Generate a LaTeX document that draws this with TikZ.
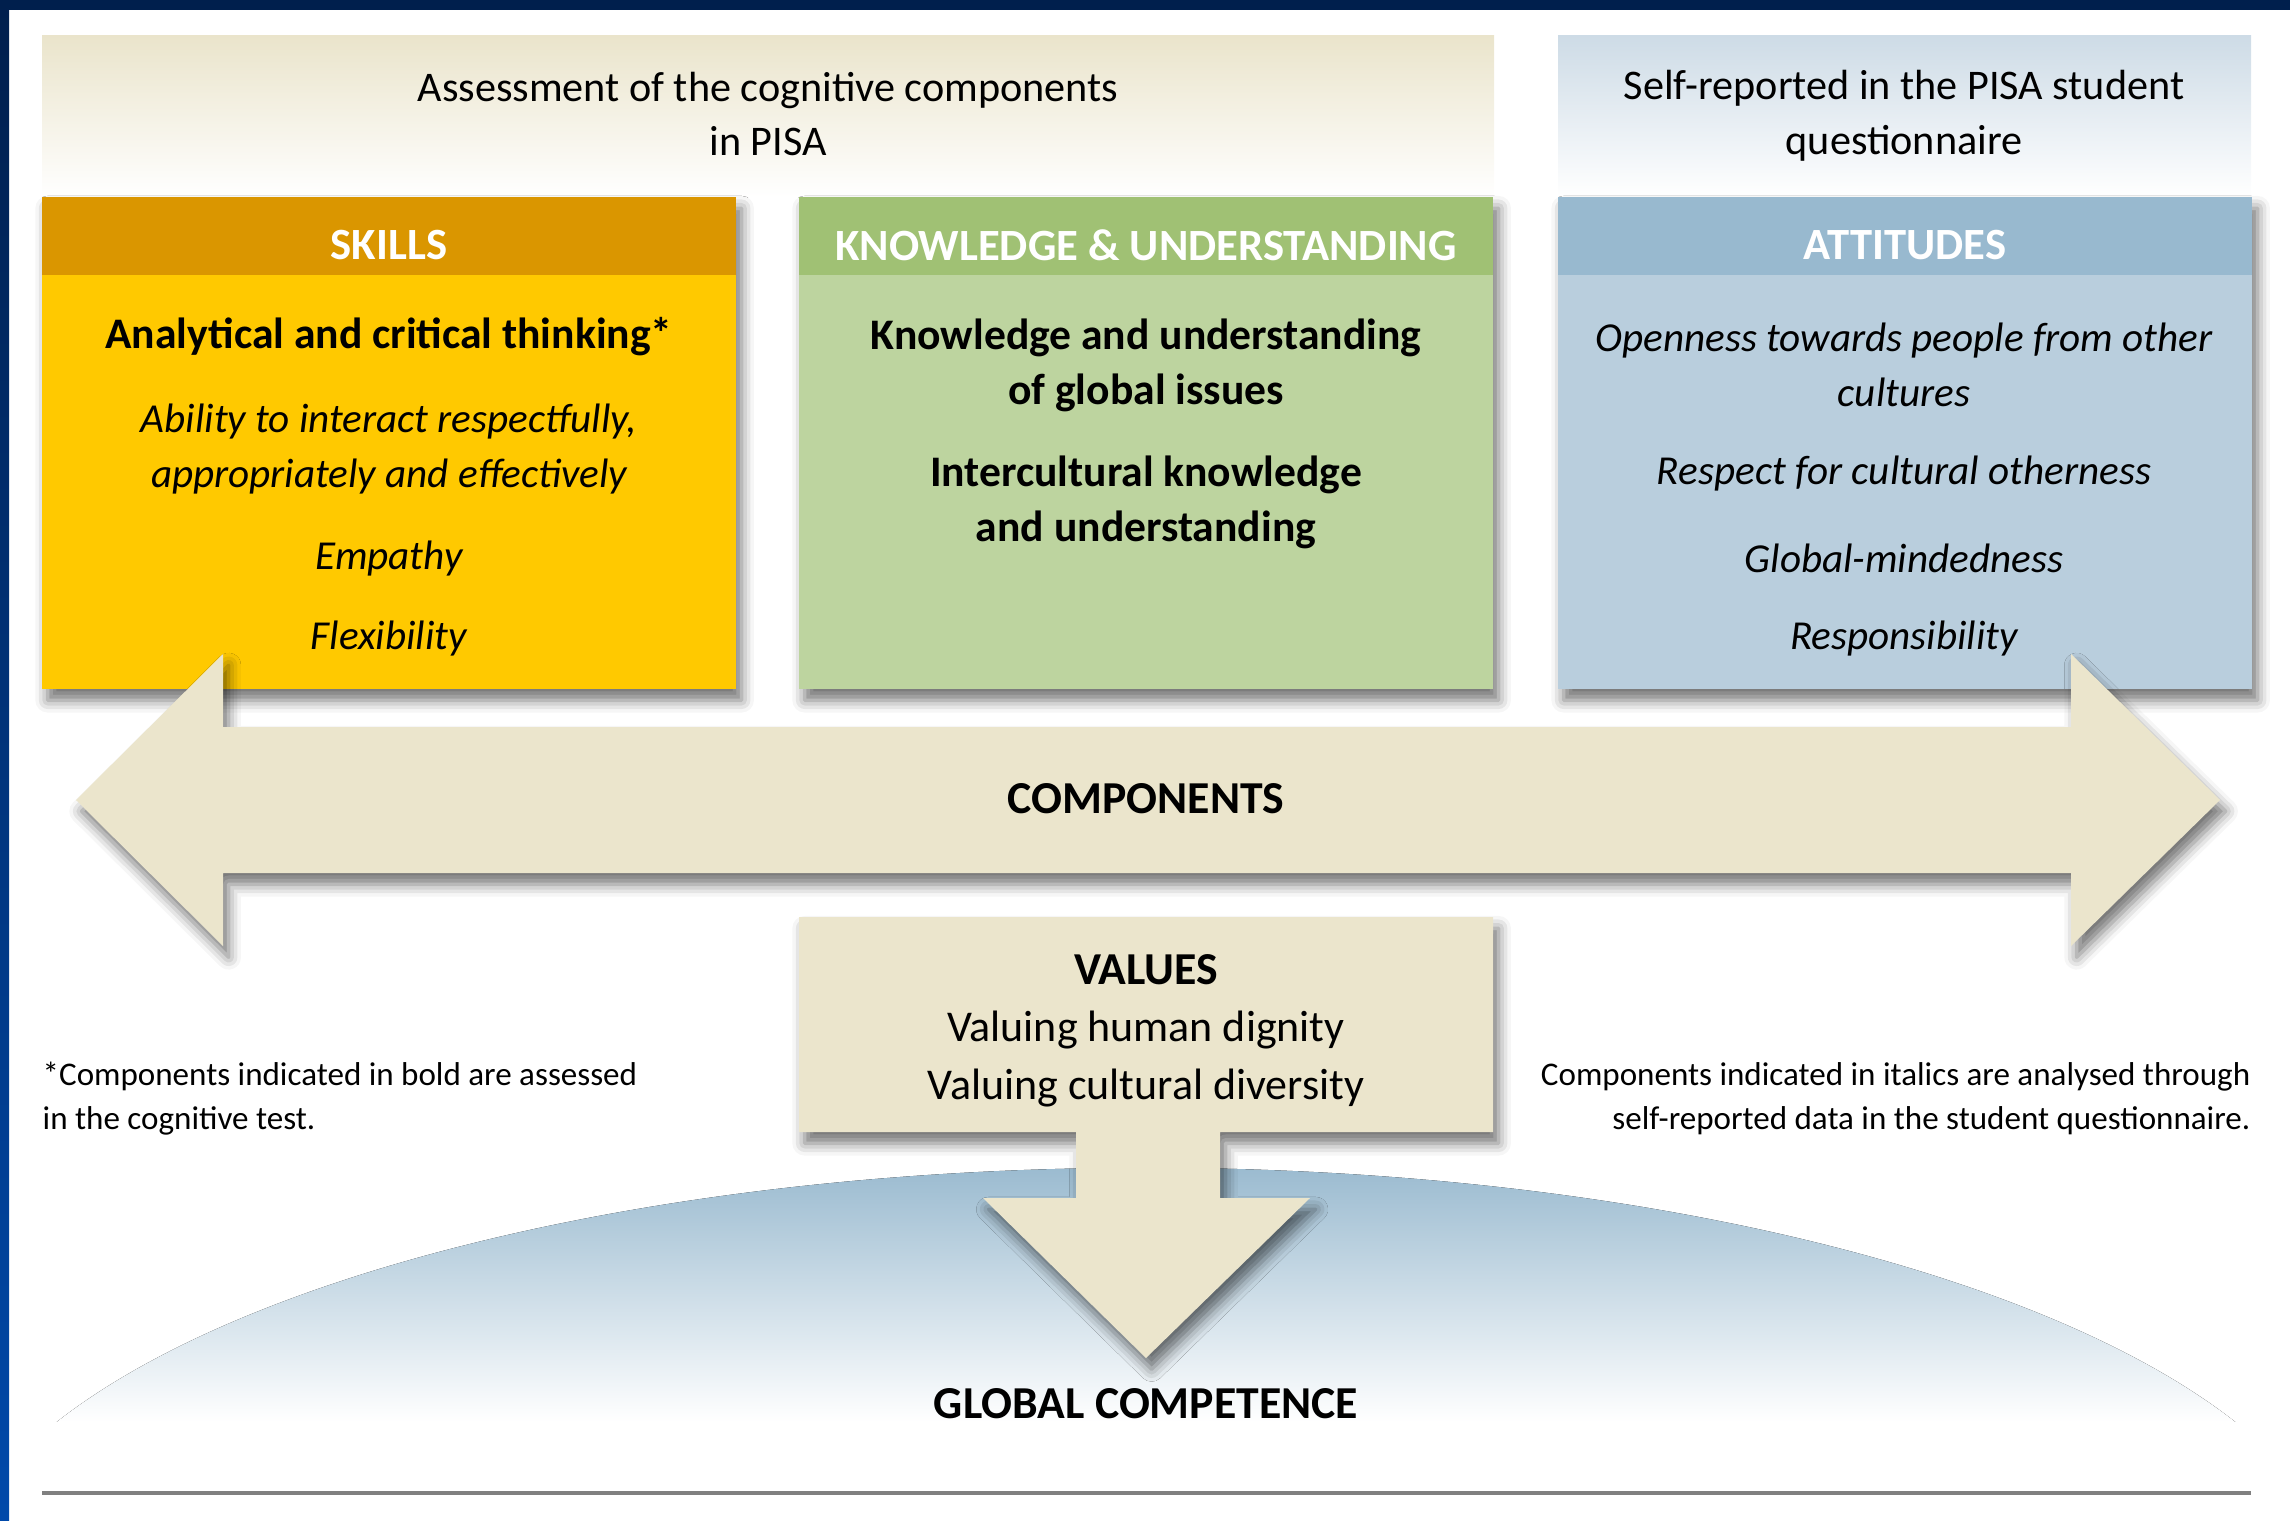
\documentclass[tikz,border=0pt]{standalone}
\usepackage{fontspec}
\setmainfont{Carlito}
\usetikzlibrary{shadows.blur}

\definecolor{navy}{HTML}{001F4D}
\definecolor{frameblue}{HTML}{0049AA}
\definecolor{cream}{HTML}{EBE5CC}
\definecolor{creamtop}{HTML}{EAE4CB}
\definecolor{greytop}{HTML}{CDDBE6}
\definecolor{skillhead}{HTML}{DA9600}
\definecolor{skillbody}{HTML}{FFC900}
\definecolor{knowhead}{HTML}{A0C174}
\definecolor{knowbody}{HTML}{BDD49F}
\definecolor{atthead}{HTML}{98B9CF}
\definecolor{attbody}{HTML}{B9CEDD}
\definecolor{domeblue}{HTML}{9BBBD0}
\definecolor{rulegrey}{HTML}{808080}

\begin{document}
\begin{tikzpicture}
	[
		x = 0.01cm, y = -0.01cm,
		soft/.style = {blur shadow={shadow xshift=1.6pt, shadow yshift=-3.2pt, shadow blur radius=3.5pt, shadow opacity=55}},
		band/.style = {inner sep=0pt, text=white, font=\fontsize{12.7}{15}\selectfont\bfseries},
		item/.style = {inner sep=0pt, align=center, font=\fontsize{12}{15.6}\selectfont},
		bitem/.style = {item, font=\fontsize{12.4}{15.6}\selectfont\bfseries},
		iitem/.style = {item, font=\fontsize{11.7}{15.6}\selectfont\itshape},
		title/.style = {inner sep=0pt, font=\fontsize{13}{15.6}\selectfont\bfseries},
		note/.style = {inner sep=0pt, font=\fontsize{9.4}{12.5}\selectfont}
	]
	
	\useasboundingbox (0,0) rectangle (2290,1521);
	
	\fill [navy] (0,0) rectangle (2290,10);
	\fill [top color=navy, bottom color=frameblue] (0,0) rectangle (9,1521);
	
	\fill [top color=creamtop, bottom color=white] (42,35) rectangle (1494,197);
	\fill [top color=greytop, bottom color=white] (1558,35) rectangle (2251,197);
	
	\node [item] (hdcog) at (768,114) {Assessment of the cognitive components\\in PISA};
	\node [item] (hdself) at (1904,116) {Self-reported in the PISA student\\questionnaire};
	
	\newcommand{\pisabox}[5]{
		\fill [#4, soft] (#2,197) rectangle ++(694,492);
		\fill [#3] (#2,197) rectangle ++(694,78);
		\node [band] (#1) at ({#2 + 347},245) {#5};
	}
	
	\pisabox{skills}{42}{skillhead}{skillbody}{SKILLS}
	\pisabox{know}{799}{knowhead}{knowbody}{KNOWLEDGE \& UNDERSTANDING}
	\pisabox{att}{1558}{atthead}{attbody}{ATTITUDES}
	
	\node [bitem] (skA) at (389,337) {Analytical and critical thinking*};
	\node [iitem] (skB) at (389,449) {Ability to interact respectfully,\\appropriately and effectively};
	\node [iitem] (skC) at (389,559) {Empathy};
	\node [iitem] (skD) at (389,639) {Flexibility};
	
	\node [bitem] (knA) at (1146,365) {Knowledge and understanding\\of global issues};
	\node [bitem] (knB) at (1146,502) {Intercultural knowledge\\and understanding};
	
	\node [iitem] (atA) at (1904,365) {Openness towards people from other\\cultures};
	\node [iitem] (atB) at (1904,474) {Respect for cultural otherness};
	\node [iitem] (atC) at (1904,558) {Global-mindedness};
	\node [iitem] (atD) at (1904,639) {Responsibility};
	
	\fill [cream, soft] (76,800) -- (223,654) -- (223,727) -- (2071,727) -- (2071,654) -- (2220,800)
		-- (2071,946) -- (2071,873) -- (223,873) -- (223,946) -- cycle;
	\node [title] (comp) at (1146,799) {COMPONENTS};
	
	\begin{scope}
		\clip (40,1160) rectangle (2252,1422);
		\clip (1146,1607) ellipse [x radius=12.0cm, y radius=4.39cm];
		\fill [top color=domeblue, bottom color=white] (40,1168) rectangle (2252,1422);
	\end{scope}
	
	\fill [cream, soft] (799,917) -- (1493,917) -- (1493,1132) -- (1220,1132) -- (1220,1198) -- (1310,1198)
		-- (1146,1358) -- (983,1198) -- (1076,1198) -- (1076,1132) -- (799,1132) -- cycle;
	\node [title] (val) at (1146,970) {VALUES};
	\node [item, font=\fontsize{12.5}{15.6}\selectfont] (valA) at (1146,1030) {Valuing human dignity};
	\node [item, font=\fontsize{12.5}{15.6}\selectfont] (valB) at (1146,1088) {Valuing cultural diversity};
	
	\node [title] (glob) at (1146,1404) {GLOBAL COMPETENCE};
	
	\node [note, anchor=west, align=left] (noteL) at (42,1099) {*Components indicated in bold are assessed\\in the cognitive test.};
	\node [note, anchor=east, align=right] (noteR) at (2251,1099) {Components indicated in italics are analysed through\\self-reported data in the student questionnaire.};
	
	\draw [rulegrey, line width=1.2pt] (42,1493) -- (2251,1493);
\end{tikzpicture}
\end{document}
